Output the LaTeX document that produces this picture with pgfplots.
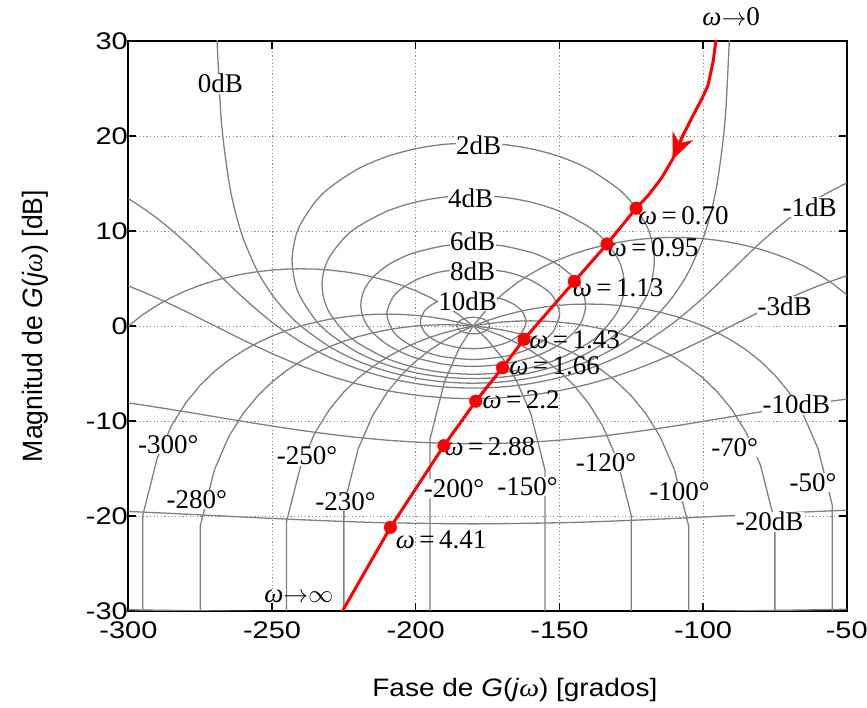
\documentclass[border=0pt]{standalone}
\usepackage{fontspec}
\setmainfont{Liberation Serif}
\setsansfont{Liberation Sans}
\usepackage{graphicx}
\usepackage{pgfplots}
\pgfplotsset{compat=1.18}
\usetikzlibrary{arrows.meta}
\definecolor{cgray}{RGB}{128,128,128}
\definecolor{ggray}{RGB}{140,140,140}
\newcommand\tickfont{\sffamily\fontsize{29}{29}\selectfont}
\newcommand\labfont{\rmfamily\fontsize{27}{27}\selectfont}
\newcommand\w{\textit{ω}}
\newcommand\sq[1]{\scalebox{1}[0.83]{#1}}
\tikzset{
 lab/.style={font=\labfont, fill=white, inner sep=0.5pt},
 wlab/.style={font=\labfont, anchor=west, inner sep=0pt},
}
\pgfplotsset{cont/.style={cgray, line width=1.3pt, no marks}}
\begin{document}
\begin{tikzpicture}
\begin{axis}[
 scale only axis, width=718.3pt, height=570pt,
 xmin=-300,xmax=-50,ymin=-30,ymax=30,
 xtick={-300,-250,-200,-150,-100,-50},
 xticklabels={\sq{-300},\sq{-250},\sq{-200},\sq{-150},\sq{-100},\sq{-50}},
 ytick={-30,-20,-10,0,10,20,30},
 yticklabels={\sq{-30},\sq{-20},\sq{-10},\sq{0},\sq{10},\sq{20},\sq{30}},
 tick align=inside, major tick length=8pt,
 grid=major,
 major grid style={ggray, line width=0.8pt, dash pattern=on 1.2pt off 2.4pt},
 axis line style={black, line width=1.8pt},
 tick style={black, line width=1.2pt},
 xticklabel style={font=\tickfont, yshift=-7pt},
 yticklabel style={font=\tickfont, xshift=3pt},
 xlabel={\scalebox{1}[0.9]{Fase de \textit{G}(\textit{j}{\rmfamily\itshape ω}) [grados]}},
 ylabel={\scalebox{0.95}[1]{Magnitud de \textit{G}(\textit{j}{\rmfamily\itshape ω}) [dB]}},
 label style={font=\sffamily\fontsize{28}{28}\selectfont},
 xlabel style={at={(axis description cs:0.538,-0.1386)}, anchor=center},
 ylabel style={at={(axis description cs:-0.1295,0.5)}, anchor=center},
 clip mode=individual,
]
% ---------- constant closed-loop magnitude contours ----------
% 0 dB
\addplot[cont, smooth] coordinates {(-269.2,31.08) (-269,29.14) (-268,23.12) (-267,19.60) (-265,15.17) (-263,12.26) (-260,9.19) (-255,5.72) (-250,3.30) (-245,1.46) (-240,0) (-230,-2.18) (-220,-3.71) (-210,-4.77) (-200,-5.48) (-190,-5.89) (-180,-6.02) (-170,-5.89) (-160,-5.48) (-150,-4.77) (-140,-3.71) (-130,-2.18) (-120,0) (-115,1.46) (-110,3.30) (-105,5.72) (-100,9.19) (-97,12.26) (-95,15.17) (-93,19.60) (-92,23.12) (-91,29.14) (-90.8,31.08)};
% 1 dB loop
\addplot[cont, smooth] coordinates {(-180,19.271) (-170,19.122) (-160,18.660) (-150,17.840) (-140,16.556) (-130,14.551) (-125,13.057) (-120,10.769) (-118,9.165) (-116.96,6.868) (-118,4.571) (-120,2.969) (-125,0.679) (-130,-0.815) (-140,-2.819) (-150,-4.103) (-160,-4.924) (-170,-5.385) (-180,-5.535) (-190,-5.385) (-200,-4.924) (-210,-4.103) (-220,-2.819) (-230,-0.815) (-235,0.679) (-240,2.969) (-242,4.571) (-243.04,6.868) (-242,9.165) (-240,10.769) (-235,13.057) (-230,14.551) (-220,16.556) (-210,17.840) (-200,18.660) (-190,19.122) (-180,19.271)};
% 2 dB loop
\addplot[cont, smooth] coordinates {(-180,13.737) (-170,13.569) (-160,13.043) (-150,12.083) (-140,10.476) (-135,9.238) (-130,7.276) (-128,5.753) (-127.41,4.328) (-128,2.907) (-130,1.382) (-135,-0.580) (-140,-1.817) (-150,-3.424) (-160,-4.384) (-170,-4.910) (-180,-5.078) (-190,-4.910) (-200,-4.384) (-210,-3.424) (-220,-1.817) (-225,-0.580) (-230,1.382) (-232,2.907) (-232.59,4.328) (-232,5.753) (-230,7.276) (-225,9.238) (-220,10.476) (-210,12.083) (-200,13.043) (-190,13.569) (-180,13.737)};
% 4 dB loop
\addplot[cont, smooth] coordinates {(-180,8.659) (-170,8.446) (-160,7.756) (-155,7.174) (-150,6.354) (-145,5.094) (-142,3.743) (-140.88,2.205) (-142,0.667) (-145,-0.685) (-150,-1.944) (-155,-2.765) (-160,-3.346) (-170,-4.035) (-180,-4.249) (-190,-4.035) (-200,-3.346) (-205,-2.765) (-210,-1.944) (-215,-0.685) (-218,0.667) (-219.12,2.205) (-218,3.743) (-215,5.094) (-210,6.354) (-205,7.174) (-200,7.756) (-190,8.446) (-180,8.659)};
% 6 dB loop
\addplot[cont, smooth] coordinates {(-180,6.041) (-170,5.770) (-165,5.405) (-160,4.832) (-155,3.918) (-152,3.006) (-149.92,1.256) (-152,-0.493) (-155,-1.410) (-160,-2.320) (-165,-2.892) (-170,-3.257) (-180,-3.528) (-190,-3.257) (-195,-2.892) (-200,-2.320) (-205,-1.410) (-208,-0.493) (-210.08,1.256) (-208,3.006) (-205,3.918) (-200,4.832) (-195,5.405) (-190,5.770) (-180,6.041)};
% 10 dB loop
\addplot[cont, smooth] coordinates {(-180,3.302) (-175,3.195) (-170,2.847) (-167,2.474) (-165,2.111) (-163,1.557) (-161.57,0.458) (-163,-0.642) (-165,-1.196) (-167,-1.559) (-170,-1.932) (-175,-2.280) (-180,-2.386) (-185,-2.280) (-190,-1.932) (-193,-1.559) (-195,-1.196) (-197,-0.642) (-198.43,0.458) (-197,1.557) (-195,2.111) (-193,2.474) (-190,2.847) (-185,3.195) (-180,3.302)};
% 20 dB loop
\addplot[cont, smooth] coordinates {(-180,0.915) (-178,0.860) (-176,0.668) (-175,0.471) (-174.26,0.044) (-175,-0.384) (-176,-0.581) (-178,-0.773) (-180,-0.828) (-182,-0.773) (-184,-0.581) (-185,-0.384) (-185.74,0.044) (-185,0.471) (-184,0.668) (-182,0.860) (-180,0.915)};
% -1 dB
\addplot[cont, smooth] coordinates {(-310,15.039) (-305,14.281) (-300,13.417) (-290,11.338) (-280,8.778) (-270,5.869) (-260,2.959) (-250,0.399) (-240,-1.680) (-230,-3.303) (-220,-4.535) (-210,-5.439) (-200,-6.056) (-190,-6.417) (-180,-6.535) (-170,-6.417) (-160,-6.056) (-150,-5.439) (-140,-4.535) (-130,-3.303) (-120,-1.680) (-110,0.399) (-100,2.959) (-90,5.869) (-80,8.778) (-70,11.338) (-60,13.417) (-55,14.281) (-50,15.039) (-45,15.7)};
% -3 dB
\addplot[cont, smooth] coordinates {(-310,5.288) (-300,4.210) (-290,2.943) (-280,1.525) (-270,0.021) (-260,-1.484) (-250,-2.901) (-240,-4.168) (-230,-5.247) (-220,-6.123) (-210,-6.797) (-200,-7.272) (-190,-7.555) (-180,-7.649) (-170,-7.555) (-160,-7.272) (-150,-6.797) (-140,-6.123) (-130,-5.247) (-120,-4.168) (-110,-2.901) (-100,-1.484) (-90,0.021) (-80,1.525) (-70,2.943) (-60,4.210) (-50,5.288)};
% -10 dB
\addplot[cont, smooth] coordinates {(-310,-7.696) (-300,-8.102) (-290,-8.554) (-280,-9.040) (-270,-9.542) (-260,-10.045) (-250,-10.530) (-240,-10.983) (-230,-11.389) (-220,-11.736) (-210,-12.016) (-200,-12.220) (-190,-12.345) (-180,-12.386) (-170,-12.345) (-160,-12.220) (-150,-12.016) (-140,-11.736) (-130,-11.389) (-120,-10.983) (-110,-10.530) (-100,-10.045) (-90,-9.542) (-80,-9.040) (-70,-8.554) (-60,-8.102) (-50,-7.696)};
% -20 dB
\addplot[cont, smooth] coordinates {(-310,-19.396) (-300,-19.520) (-285,-19.730) (-270,-19.956) (-255,-20.182) (-240,-20.392) (-225,-20.574) (-210,-20.711) (-180,-20.828) (-150,-20.711) (-135,-20.574) (-120,-20.392) (-105,-20.182) (-90,-19.956) (-75,-19.730) (-60,-19.520) (-50,-19.396)};
% -30 dB
\addplot[cont, smooth] coordinates {(-310,-29.82) (-270,-29.996) (-180,-30.27) (-90,-29.996) (-50,-29.82)};
% ---------- constant closed-loop phase contours ----------
\addplot[cont] coordinates {(-195,-40) (-195,-11.87) (-190,-5.89) (-185,-2.42) (-180,0) (-175,1.84) (-170,3.30) (-165,4.49) (-160,5.48) (-155,6.31) (-150,7.01) (-145,7.59) (-140,8.07) (-135,8.46) (-130,8.78) (-125,9.02) (-120,9.19) (-115,9.29) (-110,9.32) (-105,9.29) (-100,9.19) (-95,9.02) (-90,8.78) (-85,8.46) (-80,8.07) (-75,7.59) (-70,7.01) (-65,6.31) (-60,5.48) (-55,4.49) (-50,3.30) (-45,1.84)};
\addplot[cont] coordinates {(-225,-40) (-225,-18.88) (-220,-12.90) (-215,-9.43) (-210,-7.01) (-205,-5.17) (-200,-3.71) (-195,-2.52) (-190,-1.53) (-185,-0.70) (-180,0) (-175,0.58) (-170,1.06) (-165,1.45) (-160,1.77) (-155,2.01) (-150,2.18) (-145,2.28) (-140,2.31) (-135,2.28) (-130,2.18) (-125,2.01) (-120,1.77) (-115,1.45) (-110,1.06) (-105,0.58) (-100,0) (-95,-0.70) (-90,-1.53) (-85,-2.52) (-80,-3.71) (-75,-5.17) (-70,-7.01) (-65,-9.43) (-60,-12.90) (-55,-18.88) (-55,-40)};
\addplot[cont] coordinates {(-245,-40) (-245,-20.65) (-240,-14.67) (-235,-11.20) (-230,-8.78) (-225,-6.94) (-220,-5.48) (-215,-4.29) (-210,-3.30) (-205,-2.47) (-200,-1.77) (-195,-1.19) (-190,-0.71) (-185,-0.32) (-180,0) (-175,0.24) (-170,0.41) (-165,0.51) (-160,0.54) (-155,0.51) (-150,0.41) (-145,0.24) (-140,0) (-135,-0.32) (-130,-0.71) (-125,-1.19) (-120,-1.77) (-115,-2.47) (-110,-3.30) (-105,-4.29) (-100,-5.48) (-95,-6.94) (-90,-8.78) (-85,-11.20) (-80,-14.67) (-75,-20.65) (-75,-40)};
\addplot[cont] coordinates {(-275,-40) (-275,-21.06) (-270,-15.08) (-265,-11.61) (-260,-9.19) (-255,-7.35) (-250,-5.89) (-245,-4.70) (-240,-3.71) (-235,-2.88) (-230,-2.18) (-225,-1.60) (-220,-1.12) (-215,-0.73) (-210,-0.41) (-205,-0.17) (-200,0) (-195,0.10) (-190,0.13) (-185,0.10) (-180,0) (-175,-0.17) (-170,-0.41) (-165,-0.73) (-160,-1.12) (-155,-1.60) (-150,-2.18) (-145,-2.88) (-140,-3.71) (-135,-4.70) (-130,-5.89) (-125,-7.35) (-120,-9.19) (-115,-11.61) (-110,-15.08) (-105,-21.06) (-105,-40)};
\addplot[cont] coordinates {(-295,-40) (-295,-19.94) (-290,-13.96) (-285,-10.49) (-280,-8.07) (-275,-6.23) (-270,-4.77) (-265,-3.58) (-260,-2.59) (-255,-1.76) (-250,-1.06) (-245,-0.48) (-240,0) (-235,0.39) (-230,0.71) (-225,0.95) (-220,1.12) (-215,1.22) (-210,1.25) (-205,1.22) (-200,1.12) (-195,0.95) (-190,0.71) (-185,0.39) (-180,0) (-175,-0.48) (-170,-1.06) (-165,-1.76) (-160,-2.59) (-155,-3.58) (-150,-4.77) (-145,-6.23) (-140,-8.07) (-135,-10.49) (-130,-13.96) (-125,-19.94) (-125,-40)};
\addplot[cont] coordinates {(-310,-3.30) (-305,-1.46) (-300,0) (-295,1.19) (-290,2.18) (-285,3.01) (-280,3.71) (-275,4.29) (-270,4.77) (-265,5.16) (-260,5.48) (-255,5.72) (-250,5.89) (-245,5.99) (-240,6.02) (-235,5.99) (-230,5.89) (-225,5.72) (-220,5.48) (-215,5.16) (-210,4.77) (-205,4.29) (-200,3.71) (-195,3.01) (-190,2.18) (-185,1.19) (-180,0) (-175,-1.46) (-170,-3.30) (-165,-5.72) (-160,-9.19) (-155,-15.17) (-155,-40)};
% ---------- contour labels ----------
\node[lab] at (axis cs:-268,25.5) {0dB};
\node[lab] at (axis cs:-178.1,19.0) {2dB};
\node[lab] at (axis cs:-180.9,13.4) {4dB};
\node[lab] at (axis cs:-180.2,8.9) {6dB};
\node[lab] at (axis cs:-180.2,5.8) {8dB};
\node[lab] at (axis cs:-181.9,2.6) {10dB};
\node[lab] at (axis cs:-62.9,12.5) {-1dB};
\node[lab] at (axis cs:-71.6,2.1) {-3dB};
\node[lab] at (axis cs:-67.5,-8.27) {-10dB};
\node[lab] at (axis cs:-76.8,-20.6) {-20dB};
\node[lab] at (axis cs:-286.1,-12.5) {-300°};
\node[lab] at (axis cs:-276.2,-18.3) {-280°};
\node[lab] at (axis cs:-237.8,-13.7) {-250°};
\node[lab] at (axis cs:-224.4,-18.5) {-230°};
\node[lab] at (axis cs:-186.7,-17.1) {-200°};
\node[lab] at (axis cs:-161.1,-16.9) {-150°};
\node[lab] at (axis cs:-133.8,-14.4) {-120°};
\node[lab] at (axis cs:-108.2,-17.4) {-100°};
\node[lab] at (axis cs:-89.0,-12.8) {-70°};
\node[lab] at (axis cs:-61.7,-16.5) {-50°};
% ---------- frequency labels ----------
\node[wlab] at (axis cs:-122.7,11.6) {\w\,=\,0.70};
\node[wlab] at (axis cs:-133.2,8.28) {\w\,=\,0.95};
\node[wlab] at (axis cs:-145.4,4.05) {\w\,=\,1.13};
\node[wlab] at (axis cs:-160.5,-1.40) {\w\,=\,1.43};
\node[wlab] at (axis cs:-167.5,-4.22) {\w\,=\,1.66};
\node[wlab] at (axis cs:-176.8,-7.74) {\w\,=\,2.2};
\node[wlab] at (axis cs:-190.0,-12.7) {\w\,=\,2.88};
\node[wlab] at (axis cs:-207.0,-22.5) {\w\,=\,4.41};
\node[font=\labfont, inner sep=0pt] at (axis cs:-90.2,32.55) {\w$\rightarrow$0};
\node[font=\labfont, inner sep=0pt] at (axis cs:-240.7,-28.5) {\w$\rightarrow$$\infty$};
% ---------- open-loop frequency response ----------
\addplot[red, line width=3pt, no marks] coordinates {(-95.3,31) (-95.4,30.3) (-96.5,27.8) (-98.3,25.3) (-100.6,23.8) (-102.9,22.5) (-107.6,19.7) (-110.5,17.6) (-114.6,15.5) (-119.2,13.7) (-123.3,12.4) (-133.4,8.63) (-144.8,4.69) (-162.3,-1.40) (-169.8,-4.39) (-179.1,-7.92) (-190.2,-12.6) (-208.8,-21.2) (-225.5,-30) (-226,-30.3)};
\addplot[red, line width=3pt, no marks, -{Stealth[length=26pt, width=22pt, inset=8pt]}] coordinates {(-106.5,20.4) (-110.6,17.5)};
\addplot[only marks, mark=*, mark size=6.3pt, red, mark options={draw=red, fill=red}] coordinates {(-123.3,12.4) (-133.4,8.63) (-144.8,4.69) (-162.3,-1.40) (-169.8,-4.39) (-179.1,-7.92) (-190.2,-12.6) (-208.8,-21.2)};
\end{axis}
\pgfresetboundingbox
\useasboundingbox ([shift={(-128.4pt,-97pt)}]current axis.south west) rectangle ([shift={(20.3pt,41pt)}]current axis.north east);
\end{tikzpicture}
\end{document}
